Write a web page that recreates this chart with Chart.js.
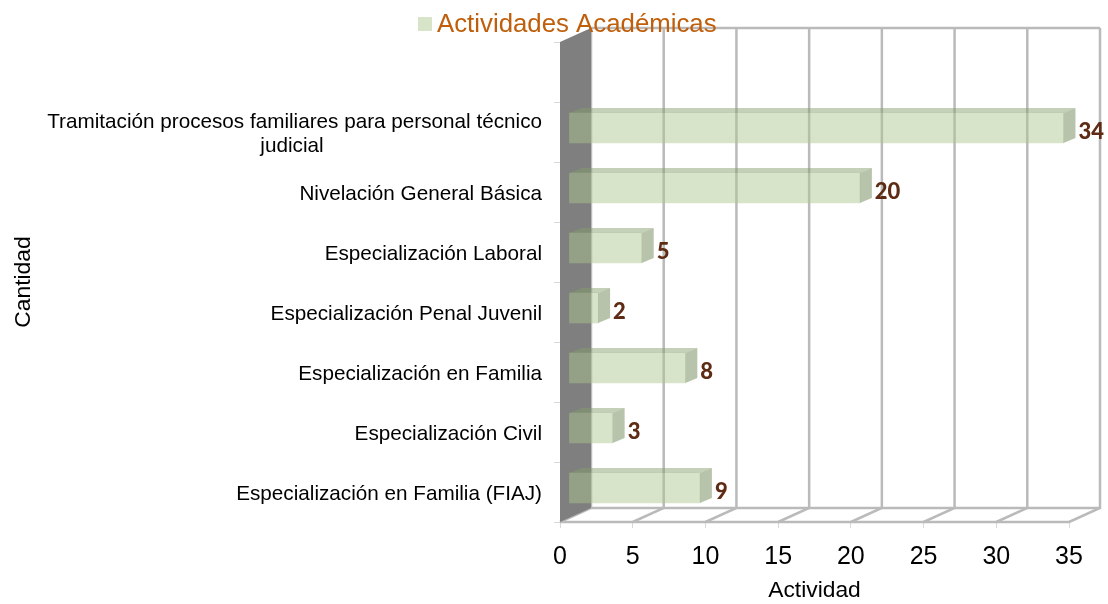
<!DOCTYPE html>
<html>
<head>
<meta charset="utf-8">
<script src="https://cdn.jsdelivr.net/npm/chart.js@4"></script>
<style>
  html, body { margin: 0; padding: 0; background: #fff; }
  #wrap { position: relative; width: 1108px; height: 604px; }
</style>
</head>
<body>
<div id="wrap"><canvas id="bar-chart"></canvas></div>
<script>
var categories = [
  '',
  ['Tramitación procesos familiares para personal técnico', 'judicial'],
  'Nivelación General Básica',
  'Especialización Laboral',
  'Especialización Penal Juvenil',
  'Especialización en Familia',
  'Especialización Civil',
  'Especialización en Familia (FIAJ)'
];
var seriesName = 'Actividades Académicas';
var seriesValues = [null, 34, 20, 5, 2, 8, 3, 9];
var xTicks = [0, 5, 10, 15, 20, 25, 30, 35];

var font = '"Liberation Sans", Arial, sans-serif';

// the "3D" look: floor depth, and how far the bars sit in from the front
var depth = { x: 31, y: -14 };
var barShift = { x: 9, y: -4 };
var barSide = { x: 12, y: -5 };

var walls = {
  id: 'walls',
  beforeDatasetsDraw: function (chart) {
    var c = chart.ctx, a = chart.chartArea, xs = chart.scales.x;
    c.save();
    c.strokeStyle = '#bababa';
    c.lineWidth = 2.5;
    xTicks.forEach(function (t) {
      var x = xs.getPixelForValue(t);
      c.beginPath();
      c.moveTo(x, a.bottom);
      c.lineTo(x + depth.x, a.bottom + depth.y);
      c.lineTo(x + depth.x, a.top + depth.y);
      c.stroke();
    });
    // back wall top, floor edges
    c.beginPath();
    c.moveTo(a.left + depth.x, a.top + depth.y);
    c.lineTo(a.right + depth.x, a.top + depth.y);
    c.moveTo(a.left + depth.x, a.bottom + depth.y);
    c.lineTo(a.right + depth.x, a.bottom + depth.y);
    c.moveTo(a.left, a.bottom);
    c.lineTo(a.right, a.bottom);
    c.stroke();
    // grey side wall
    c.fillStyle = '#7f7f7f';
    c.beginPath();
    c.moveTo(a.left, a.top);
    c.lineTo(a.left + depth.x, a.top + depth.y);
    c.lineTo(a.left + depth.x, a.bottom + depth.y);
    c.lineTo(a.left, a.bottom);
    c.closePath();
    c.fill();
    c.restore();
  },
  beforeDatasetDraw: function (chart) {
    chart.ctx.save();
    chart.ctx.translate(barShift.x, barShift.y);
  },
  afterDatasetDraw: function (chart) {
    var c = chart.ctx;
    chart.getDatasetMeta(0).data.forEach(function (bar, i) {
      if (seriesValues[i] === null) return;
      var top = bar.y - bar.height / 2, bottom = bar.y + bar.height / 2;
      // top face
      c.fillStyle = 'rgba(132,157,105,0.48)';
      c.beginPath();
      c.moveTo(bar.base, top);
      c.lineTo(bar.base + barSide.x, top + barSide.y);
      c.lineTo(bar.x + barSide.x, top + barSide.y);
      c.lineTo(bar.x, top);
      c.closePath();
      c.fill();
      // end face
      c.fillStyle = 'rgba(105,130,78,0.48)';
      c.beginPath();
      c.moveTo(bar.x, top);
      c.lineTo(bar.x + barSide.x, top + barSide.y);
      c.lineTo(bar.x + barSide.x, bottom + barSide.y);
      c.lineTo(bar.x, bottom);
      c.closePath();
      c.fill();
      // value label
      c.fillStyle = '#5e2c14';
      c.font = '900 22px Lato, sans-serif';
      c.textAlign = 'left';
      c.textBaseline = 'middle';
      c.fillText(seriesValues[i], bar.x + barSide.x + 3, bar.y + 4);
    });
    c.restore();
  },
  afterDraw: function (chart) {
    // legend entry sits on top of the plot
    var c = chart.ctx;
    c.save();
    c.fillStyle = '#d7e4c8';
    c.fillRect(418, 17, 14, 14);
    c.fillStyle = '#c05f0b';
    c.font = '25.8px ' + font;
    c.textAlign = 'left';
    c.textBaseline = 'middle';
    c.fillText(seriesName, 437, 25);
    c.restore();
  }
};

var myBarChart = new Chart(document.getElementById('bar-chart'), {
  type: 'bar',
  data: {
    labels: categories,
    datasets: [{
      label: seriesName,
      data: seriesValues,
      backgroundColor: 'rgba(173,198,144,0.48)',
      barThickness: 30,
      clip: false
    }]
  },
  plugins: [walls],
  options: {
    indexAxis: 'y',
    responsive: true,
    maintainAspectRatio: false,
    animation: false,
    layout: { padding: { top: 42, right: 39, bottom: 0, left: 0 } },
    plugins: { legend: { display: false }, tooltip: { enabled: false } },
    scales: {
      x: {
        min: 0,
        max: 35,
        ticks: {
          stepSize: 5,
          color: '#000',
          padding: 14,
          maxRotation: 0,
          font: { family: font, size: 25 }
        },
        grid: { drawOnChartArea: false, tickLength: 6, color: '#d9d9d9' },
        border: { display: false },
        title: {
          display: true,
          text: 'Actividad',
          color: '#000',
          padding: { top: 6, bottom: 0 },
          font: { family: font, size: 22.8 }
        },
        afterFit: function (s) { s.height = 82; }
      },
      y: {
        ticks: {
          autoSkip: false,
          color: '#000',
          padding: 12,
          labelOffset: 2,
          font: { family: font, size: 20.7, lineHeight: 1.165 },
          // second line of the long label is centred under the first
          callback: function (value) {
            var label = this.getLabelForValue(value);
            var lab = categories[value];
            if (Array.isArray(lab)) return [lab[0], lab[1] + '\u00a0'.repeat(38)];
            return label;
          }
        },
        grid: { drawOnChartArea: false, tickLength: 6, color: '#d9d9d9' },
        border: { display: false },
        title: {
          display: true,
          text: 'Cantidad',
          color: '#000',
          padding: { top: 10, bottom: 0 },
          font: { family: font, size: 22.8 }
        },
        afterFit: function (s) { s.width = 560; }
      }
    }
  }
});
</script>
</body>
</html>
